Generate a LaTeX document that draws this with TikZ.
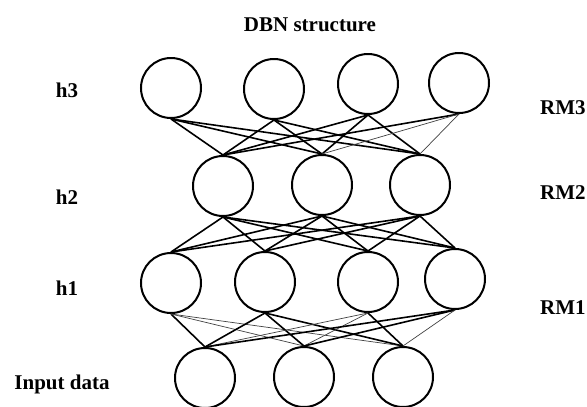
\documentclass[tikz,border=0pt]{standalone}
\usepackage{fontspec}
\setmainfont{Liberation Serif}
\begin{document}
\begin{tikzpicture}[x=1pt,y=-1pt,
  unit/.style={circle, draw, line width=2pt, minimum size=60pt, inner sep=0pt},
  link/.style={line width=1.6pt},
  faint/.style={line width=0.7pt, black!75},
  lbl/.style={font=\fontsize{21}{24}\selectfont\bfseries, inner sep=0pt},
  ttl/.style={font=\fontsize{21}{25}\selectfont\bfseries, inner sep=0pt}]
\useasboundingbox (0,0) rectangle (587,407);
\clip (0,0) rectangle (587,407);

% title
\node[ttl] (title) at (310,25) {DBN structure};

% layer h3
\node[unit] (a1) at (171,88) {};
\node[unit] (a2) at (274,89) {};
\node[unit] (a3) at (368,84) {};
\node[unit] (a4) at (459,83) {};
% layer h2
\node[unit] (b1) at (223,186) {};
\node[unit] (b2) at (322,185) {};
\node[unit] (b3) at (420,185) {};
% layer h1
\node[unit] (c1) at (171,283) {};
\node[unit] (c2) at (265,282) {};
\node[unit] (c3) at (368,282) {};
\node[unit] (c4) at (455,279) {};
% visible layer
\node[unit] (d1) at (205,378) {};
\node[unit] (d2) at (304,377) {};
\node[unit] (d3) at (403,377) {};

% h3 -- h2
\foreach \u in {a1,a2,a3}
  \foreach \v in {b1,b2,b3}
    \draw[link] (\u.south) -- (\v.north);
\draw[link] (a4.south) -- (b1.north);
\draw[faint] (a4.south) -- (b2.north);
\draw[faint] (a4.south) -- (b3.north);

% h2 -- h1
\foreach \u in {b1,b2,b3}
  \foreach \v in {c1,c2,c3,c4}
    \draw[link] (\u.south) -- (\v.north);

% h1 -- input
\draw[link] (c1.south) -- (d1.north);
\draw[faint] (c1.south) -- (d2.north);
\draw[faint] (c1.south) -- (d3.north);
\foreach \v in {d1,d2,d3}
  \draw[link] (c2.south) -- (\v.north);
\draw[faint] (c3.south) -- (d1.north);
\draw[faint] (c3.south) -- (d2.north);
\draw[link] (c3.south) -- (d3.north);
\draw[link] (c4.south) -- (d1.north);
\draw[link] (c4.south) -- (d2.north);
\draw[faint] (c4.south) -- (d3.north);

% layer names
\node[lbl] (lh3) at (67,90) {h3};
\node[lbl] (lh2) at (67,197) {h2};
\node[lbl] (lh1) at (67,288) {h1};
\node[lbl] (lin) at (62,384) {Input data};

% RBM names
\node[lbl, anchor=west] (rm3) at (540,108) {RM3};
\node[lbl, anchor=west] (rm2) at (540,193) {RM2};
\node[lbl, anchor=west] (rm1) at (540,308) {RM1};
\end{tikzpicture}
\end{document}
